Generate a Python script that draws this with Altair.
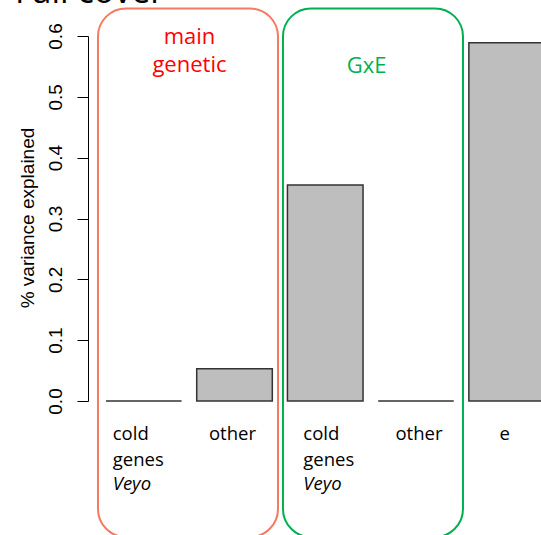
import altair as alt
import pandas as pd

# ---- data ----
categories = ["cold genes Veyo (main)", "other (main)", "cold genes Veyo (GxE)", "other (GxE)", "e"]
values = [0.0, 0.053, 0.355, 0.0, 0.589]
tick_values = [0.0, 0.1, 0.2, 0.3, 0.4, 0.5, 0.6]
label_lines = [["cold", "genes", "Veyo"], ["other"], ["cold", "genes", "Veyo"], ["other"], ["e"]]
italic_words = ["Veyo"]
group_names = ["main genetic", "GxE"]
title_text = "Fall cover"
y_title = "% variance explained"

# ---- layout constants (R barplot geometry: width 1, space 0.2) ----
BAR_W, SPACE = 1.0, 0.2
PAD_L, PAD_T = 88, 36
W, H = 541 - PAD_L, 401 - PAD_T
x_scale = alt.Scale(domain=[-0.038, 5.954], nice=False, zero=False)
y_scale = alt.Scale(domain=[0, 0.6], nice=False, zero=False)

bars = pd.DataFrame({
    "cat": categories,
    "value": values,
    "x0": [SPACE + i * (BAR_W + SPACE) for i in range(len(values))],
})
bars["x1"] = bars["x0"] + BAR_W
bars["base"] = 0.0

# x labels below bars
label_anchor = [0.289, 1.873, 2.810, 4.340, 5.474]
label_align = ["left", "center", "left", "center", "center"]
line_y = [-0.0641, -0.1068, -0.1463]
rows = []
for i, lines in enumerate(label_lines):
    for k, w in enumerate(lines):
        rows.append({"x": label_anchor[i], "y": line_y[k], "t": w,
                     "italic": w in italic_words, "align": label_align[i]})
labels = pd.DataFrame(rows)

# group boxes
boxes = pd.DataFrame({
    "g": group_names,
    "x0": [0.094, 2.541],
    "x1": [2.475, 4.922],
    "y0": [-0.2236, -0.2236],
    "y1": [0.6453, 0.6453],
    "col": ["#F47A61", "#00B050"],
})
group_text = pd.DataFrame({
    "t": ["main", "genetic", "GxE"],
    "x": [1.304, 1.304, 3.648],
    "y": [0.5870, 0.5413, 0.5392],
    "col": ["#FF0000", "#FF0000", "#00B050"],
})

bar_layer = alt.Chart(bars).mark_rect(fill="#BEBEBE", stroke="#333333", strokeWidth=1.5).encode(
    x=alt.X("x0:Q", scale=x_scale, axis=None),
    x2="x1:Q",
    y=alt.Y("value:Q", scale=y_scale, axis=alt.Axis(
        values=tick_values, format=".1f", title=None, grid=False,
        domain=True, domainColor="black", domainWidth=1,
        ticks=True, tickColor="black", tickSize=11, tickWidth=1,
        labelAngle=270, labelAlign="center", labelBaseline="alphabetic",
        labelPadding=16, labelFont="Liberation Sans", labelFontSize=19,
        labelColor="black", labelFlush=False, labelOverlap=False)),
    y2="base:Q",
)

box_layer = alt.Chart(boxes).mark_rect(fillOpacity=0, cornerRadius=28, strokeWidth=2).encode(
    x=alt.X("x0:Q", scale=x_scale),
    x2="x1:Q",
    y=alt.Y("y0:Q", scale=y_scale),
    y2="y1:Q",
    stroke=alt.Stroke("col:N", scale=None),
)

group_text_layer = alt.Chart(group_text).mark_text(
    font="Open Sans", fontSize=22, align="center", baseline="alphabetic").encode(
    x=alt.X("x:Q", scale=x_scale),
    y=alt.Y("y:Q", scale=y_scale),
    text="t:N",
    color=alt.Color("col:N", scale=None),
)

def label_layer(italic, align):
    return alt.Chart(labels).transform_filter(
        (alt.datum.italic == italic) & (alt.datum.align == align)
    ).mark_text(font="Open Sans", fontSize=18.5, align=align, baseline="alphabetic",
                color="black", fontStyle="italic" if italic else "normal").encode(
        x=alt.X("x:Q", scale=x_scale),
        y=alt.Y("y:Q", scale=y_scale),
        text="t:N",
    )

title_layer = alt.Chart(pd.DataFrame({"t": [title_text]})).mark_text(
    font="Open Sans", fontSize=34, align="left", baseline="alphabetic", color="black").encode(
    x=alt.value(15 - PAD_L), y=alt.value(3 - PAD_T), text="t:N")

ytitle_layer = alt.Chart(pd.DataFrame({"t": [y_title]})).mark_text(
    font="Liberation Sans", fontSize=19, align="center", baseline="alphabetic",
    angle=270, color="black").encode(
    x=alt.value(34 - PAD_L), y=alt.value(218 - PAD_T), text="t:N")

chart = alt.layer(
    bar_layer, box_layer, group_text_layer,
    label_layer(False, "left"), label_layer(False, "center"), label_layer(True, "left"),
    title_layer, ytitle_layer,
).properties(
    width=W, height=H,
    autosize=alt.AutoSizeParams(type="none"),
    padding={"left": PAD_L, "top": PAD_T, "right": 0, "bottom": 535 - PAD_T - H},
).configure_view(stroke=None)

chart.save("out.html", embed_options={"renderer": "svg", "actions": False})
